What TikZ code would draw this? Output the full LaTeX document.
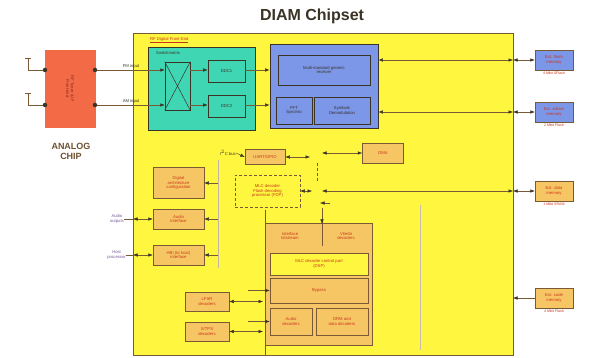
\documentclass[tikz,border=0pt]{standalone}
\usepackage{fontspec}
\setmainfont{Liberation Sans}
\usetikzlibrary{arrows.meta}
\definecolor{chipyel}{HTML}{FFF640}
\definecolor{teal1}{HTML}{3FD6B4}
\definecolor{blue1}{HTML}{7C96E8}
\definecolor{orbox}{HTML}{F7C664}
\definecolor{anred}{HTML}{F36A47}
\definecolor{txtred}{HTML}{C8361E}
\definecolor{brd}{HTML}{7A5A34}
\definecolor{ttl}{HTML}{3A3326}
\definecolor{lbl}{HTML}{7A5A9A}
\tikzset{
  x=1pt,y=-1pt,
  every node/.style={font=\fontsize{4.2}{4.8}\selectfont, text=txtred, align=center, inner sep=0pt},
  obox/.style={draw=brd, fill=orbox, line width=0.5pt},
  ybox/.style={draw=brd, fill=chipyel, line width=0.5pt, densely dashed},
  bbox/.style={draw=ttl, fill=blue1, line width=0.7pt},
  conn/.style={draw=brd, line width=0.5pt},
  arr/.style={conn, -{Latex[length=4.5pt,width=3.5pt,color=ttl]}},
  darr/.style={conn, {Latex[length=4.5pt,width=3.5pt,color=ttl]}-{Latex[length=4.5pt,width=3.5pt,color=ttl]}},
  dotc/.style={circle, fill=ttl, minimum size=4.5pt, inner sep=0pt},
  ext/.style={font=\fontsize{3.6}{4.2}\selectfont, text=txtred}
}
\begin{document}
\begin{tikzpicture}
\useasboundingbox (0,0) rectangle (589,358);
\fill[white] (0,0) rectangle (589,358);
% title
\node[font=\bfseries\fontsize{16}{18}\selectfont, text=ttl] (title) at (312,16) {DIAM Chipset};
% main chip
\draw[draw=brd, fill=chipyel, line width=0.7pt] (133,33) rectangle (513,355);
\node[anchor=west, text=txtred] (rflbl) at (150,40) {\underline{RF Digital Front-End}};
% teal front-end
\draw[draw=ttl, fill=teal1, line width=0.6pt] (148,47) rectangle (255,130);
\node[anchor=west, text=ttl] (swl) at (156,53) {Switchmatrix};
\node[draw=ttl, line width=0.5pt, minimum width=25pt, minimum height=48pt] (cross) at (177.5,86) {};
\draw[ttl, line width=0.5pt] (cross.north west) -- (cross.south east) (cross.north east) -- (cross.south west);
\node[draw=ttl, line width=0.6pt, minimum width=37pt, minimum height=22pt, text=ttl] (ddc1) at (226.5,71) {DDC1};
\node[draw=ttl, line width=0.6pt, minimum width=37pt, minimum height=22pt, text=ttl] (ddc2) at (226.5,106) {DDC2};
% blue block
\node[bbox, minimum width=108pt, minimum height=84pt] (blue) at (324,86) {};
\node[draw=ttl, line width=0.6pt, minimum width=92pt, minimum height=30pt, text=ttl] (gen) at (324,70) {Multi-standard generic\\receiver};
\node[draw=ttl, line width=0.6pt, minimum width=36pt, minimum height=27pt, text=ttl] (fft) at (294,110.5) {FFT\\Synchro};
\node[draw=ttl, line width=0.6pt, minimum width=56pt, minimum height=27pt, text=ttl] (sym) at (342,110.5) {Symbols\\Demodulation};
% analog chip
\node[draw=anred, fill=anred, minimum width=50pt, minimum height=77pt] (ana) at (70,88.5) {};
\node[rotate=-90, text=txtred!70!black] (anat) at (70,88.5) {RF Tuner \& IF\\Front-end};
\node[dotc] (dl1) at (45,70) {};
\node[dotc] (dl2) at (45,105) {};
\node[dotc] (dr1) at (95,70) {};
\node[dotc] (dr2) at (95,105) {};
\coordinate (ant1) at (28,58);
\coordinate (ant2) at (28,93);
\draw[conn] (ant1) -- (28,70) -- (dl1);
\draw[conn] (ant2) -- (28,105) -- (dl2);
\draw[conn] (25,58) -- (31,58) (25,93) -- (31,93);
\node[font=\bfseries\fontsize{9}{10}\selectfont, text=ttl!60!brown] (anal) at (71,151) {ANALOG\\CHIP};
% inputs
\coordinate (c1) at (cross.west |- dr1);
\coordinate (c2) at (cross.west |- dr2);
\draw[arr] (dr1) -- node[above=1pt, text=ttl] {FM input} (c1);
\draw[arr] (dr2) -- node[above=1pt, text=ttl] {AM input} (c2);
\draw[arr] (cross.east |- dr1) -- (ddc1.west |- dr1);
\draw[arr] (cross.east |- dr2) -- (ddc2.west |- dr2);
\draw[arr] (ddc1.east |- dr1) -- (blue.west |- dr1);
\draw[arr] (ddc2.east |- dr2) -- (blue.west |- dr2);
% external memories
\node[draw=brd, fill=blue1, minimum width=38pt, minimum height=20pt, line width=0.5pt] (ext1) at (554,60) {Ext. flash\\memory};
\node[ext, anchor=north] (ext1l) at (554,72) {4 Mbit SFlash};
\node[draw=brd, fill=blue1, minimum width=38pt, minimum height=20pt, line width=0.5pt] (ext2) at (554,112) {Ext. sdram\\memory};
\node[ext, anchor=north] (ext2l) at (554,124) {2 Mbit Flash};
\node[obox, minimum width=38pt, minimum height=20pt] (ext3) at (554,191) {Ext. data\\memory};
\node[ext, anchor=north] (ext3l) at (554,203) {1 Mbit SRAM};
\node[obox, minimum width=38pt, minimum height=20pt] (ext4) at (554,298) {Ext. code\\memory};
\node[ext, anchor=north] (ext4l) at (554,310) {4 Mbit Flash};
\coordinate (e1) at (513,60);
\coordinate (e2) at (513,112);
\coordinate (e3) at (513,191);
\coordinate (e4) at (513,298);
\draw[darr] (blue.east |- e1) -- (e1);
\draw[darr] (blue.east |- e2) -- (e2);
\draw[darr] (e1) -- (ext1.west);
\draw[darr] (e2) -- (ext2.west);
\draw[darr] (e3) -- (ext3.west);
\draw[arr] (ext4.west) -- (e4);
% left side boxes
\node[obox, minimum width=51pt, minimum height=31pt] (dac) at (178.5,183) {Digital\\architecture\\configuration};
\node[obox, minimum width=51pt, minimum height=20pt] (aud) at (178.5,219) {Audio\\interface};
\node[obox, minimum width=51pt, minimum height=20pt] (hbi) at (178.5,255) {HBI (to host)\\interface};
\coordinate (lb1) at (218,183);
\coordinate (lb2) at (218,219);
\coordinate (lb3) at (218,255);
\draw[conn, brd!45] (218,160) -- (218,268);
\draw[arr] (lb1) -- (dac.east);
\draw[arr] (lb2) -- (aud.east);
\draw[arr] (lb3) -- (hbi.east);
\coordinate (la) at (133,219);
\coordinate (lh) at (133,255);
\draw[darr] (aud.west) -- (la);
\draw[darr] (hbi.west) -- (lh);
\node[text=lbl, anchor=east] (audo) at (124,219) {Audio\\outputs};
\node[text=lbl, anchor=east] (hostp) at (126,255) {Host\\processor};
\draw[conn] (la) -- (audo.east);
\draw[conn] (lh) -- (hostp.east);
% UART / DMA
\node[obox, minimum width=40pt, minimum height=15pt] (uart) at (265,157) {UART/GPIO};
\node[obox, minimum width=41pt, minimum height=20pt] (dma) at (383,153) {DMA};
\node[anchor=east, text=ttl] (i2c) at (236,153) {I$^2$C bus};
\draw[arr] (i2c.east) -- (uart.west);
\draw[darr] (uart.east) -- (310,157);
\draw[darr] (322,153) -- (dma.west);
\draw[conn, densely dashed] (317,163) -- (317,182);
% MLC decoder
\node[ybox, minimum width=65pt, minimum height=32pt] (mlc) at (267.5,191) {MLC decoder\\Flash decoding\\processor (FDP)};
\draw[darr] (mlc.east) -- (312,191);
\draw[darr] (322,191) -- (e3);
\draw[arr] (330,203) -- (320,203);
% orange big region
\draw[draw=brd, fill=orbox, line width=0.5pt] (265,223) rectangle (372,345);
\draw[conn] (265,210) -- (265,355);
\node (ifc) at (290,236) {Interface\\bitstream};
\node (vit) at (346,236) {Viterbi\\decoders};
\draw[conn] (322,222) -- (322,246);
\draw[arr] (322,208) -- (322,224);
\node[ybox, solid, line width=0.7pt, minimum width=98pt, minimum height=22pt] (mlcdsp) at (319,264) {MLC decoder control part\\(DSP)};
\node[obox, minimum width=98pt, minimum height=25pt] (byp) at (319,290.5) {Bypass};
\node[obox, minimum width=42pt, minimum height=27pt] (audd) at (291,321.5) {Audio\\decoders};
\node[obox, minimum width=52pt, minimum height=27pt] (drmd) at (342,321.5) {DRM and\\data decoders};
\draw[arr] (248,290.5) -- (byp.west);
\draw[arr] (248,321.5) -- (audd.west);
% bottom-left boxes
\node[obox, minimum width=44pt, minimum height=19pt] (lfsr) at (207,301.5) {LFSR\\decoders};
\node[obox, minimum width=44pt, minimum height=19pt] (stps) at (207,331.5) {S/TPS\\decoders};
\draw[darr] (lfsr.east) -- (263,301.5);
\draw[darr] (stps.east) -- (263,331.5);
% faint right bus
\draw[conn, brd!40] (420,205) -- (420,350);
\end{tikzpicture}
\end{document}
